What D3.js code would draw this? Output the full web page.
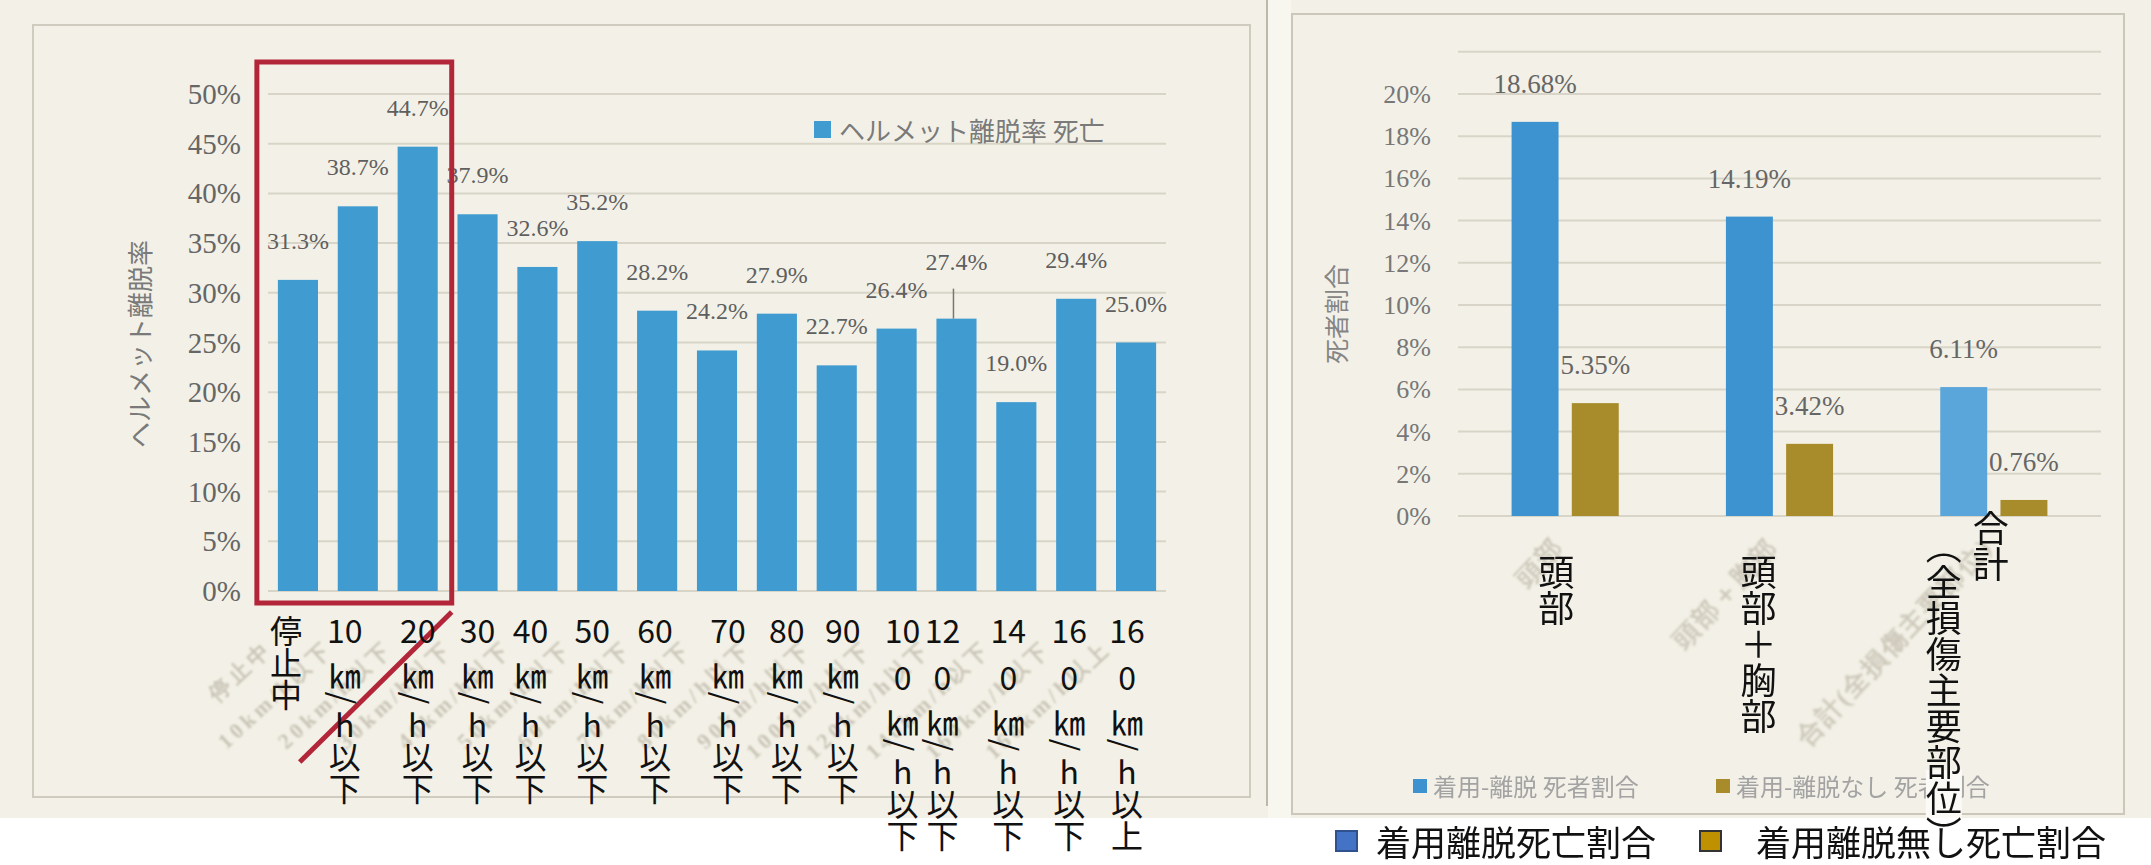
<!DOCTYPE html>
<html>
<head>
<meta charset="utf-8">
<script src="https://cdn.jsdelivr.net/npm/d3@7"></script>
<style>
  body { margin: 0; background: #fff; }
  svg { display: block; }
</style>
</head>
<body>
<script>
const width = 2151;
const height = 865;

// left chart: helmet removal rate (deaths) by speed band
const speedCats = ['停止中', '10㎞/h以下', '20㎞/h以下', '30㎞/h以下', '40㎞/h以下', '50㎞/h以下',
  '60㎞/h以下', '70㎞/h以下', '80㎞/h以下', '90㎞/h以下', '100㎞/h以下', '120㎞/h以下',
  '140㎞/h以下', '160㎞/h以下', '160㎞/h以上'];
const removalRate = [31.3, 38.7, 44.7, 37.9, 32.6, 35.2, 28.2, 24.2, 27.9, 22.7, 26.4, 27.4, 19.0, 29.4, 25.0];
const leftTicks = [0, 5, 10, 15, 20, 25, 30, 35, 40, 45, 50];

// right chart: death ratio by injured body part
const bodyParts = ['頭部', '頭部＋胸部', '合計（全損傷主要部位）'];
const scanParts = ['頭部', '頭部＋胸部', '合計(全損傷主要部位)'];
const deathRemoved = [18.68, 14.19, 6.11];
const deathNotRemoved = [5.35, 3.42, 0.76];
const rightTicks = [0, 2, 4, 6, 8, 10, 12, 14, 16, 18, 20];
const seriesNames = ['着用離脱死亡割合', '着用離脱無し死亡割合'];
const scanSeriesNames = ['着用-離脱 死者割合', '着用-離脱なし 死者割合'];

// hand placed overlay labels sit a bit off the bar centres
const overlayShift = [-12, -13, 0, 0, -7, -5, -2, 11, 10, 6, 6, -14, -8, -7, -9];

const svg = d3.select('body').append('svg')
  .attr('width', width)
  .attr('height', height);

const jp = '"Noto Sans CJK JP", "Noto Sans", sans-serif';
const serif = '"Liberation Serif", "DejaVu Serif", serif';
const grey = '#666';

// soft blur for the faint print-through text of the scan
svg.append('defs').append('filter').attr('id', 'soft')
  .append('feGaussianBlur').attr('stdDeviation', 1.1);

// paper background
svg.append('rect').attr('width', width).attr('height', height).attr('fill', '#fff');
svg.append('rect').attr('x', 0).attr('y', 0).attr('width', 1268).attr('height', 818).attr('fill', '#f3f1e7');
svg.append('rect').attr('x', 1268).attr('y', 0).attr('width', 23).attr('height', 818).attr('fill', '#f7f6ef');
svg.append('rect').attr('x', 1291).attr('y', 0).attr('width', 860).attr('height', 818).attr('fill', '#f3f1e7');

svg.append('rect').attr('x', 33).attr('y', 25).attr('width', 1217).attr('height', 772)
  .attr('fill', 'none').attr('stroke', '#cfcbbe').attr('stroke-width', 2);
svg.append('line').attr('x1', 1267).attr('x2', 1267).attr('y1', 0).attr('y2', 806)
  .attr('stroke', '#bcb8aa').attr('stroke-width', 2);
svg.append('rect').attr('x', 1292).attr('y', 14).attr('width', 832).attr('height', 800)
  .attr('fill', 'none').attr('stroke', '#cbc7ba').attr('stroke-width', 2);

// ---------- left chart ----------
const xL = d3.scaleBand().domain(speedCats).range([268, 1166]).paddingInner(0.33).paddingOuter(0.165);
const yL = d3.scaleLinear().domain([0, 50]).range([591, 94]);
const left = svg.append('g');

left.append('g').selectAll('line').data(leftTicks).enter().append('line')
  .attr('x1', 268).attr('x2', 1166)
  .attr('y1', d => yL(d)).attr('y2', d => yL(d))
  .attr('stroke', '#d8d5c8').attr('stroke-width', 2);

left.append('g').selectAll('text').data(leftTicks).enter().append('text')
  .attr('x', 241).attr('y', d => yL(d) + 10)
  .attr('text-anchor', 'end')
  .attr('font-family', serif).attr('font-size', 29).attr('fill', grey)
  .text(d => d + '%');

left.append('text')
  .attr('transform', 'translate(150,344) rotate(-90)')
  .attr('text-anchor', 'middle')
  .attr('font-family', jp).attr('font-size', 26).attr('fill', '#7a7a7a')
  .text('ヘルメット離脱率');

const leftData = speedCats.map((c, i) => ({cat: c, v: removalRate[i], i}));

left.append('g').selectAll('rect').data(leftData).enter().append('rect')
  .attr('x', d => xL(d.cat)).attr('width', xL.bandwidth())
  .attr('y', d => yL(d.v)).attr('height', d => yL(0) - yL(d.v))
  .attr('fill', '#3f9bd0');

const lift = d => d.cat === '120㎞/h以下' ? 57 : 39;
left.append('g').selectAll('text').data(leftData).enter().append('text')
  .attr('x', d => xL(d.cat) + xL.bandwidth() / 2)
  .attr('y', d => yL(d.v) - lift(d) + 8)
  .attr('text-anchor', 'middle')
  .attr('font-family', serif).attr('font-size', 24).attr('fill', '#5f5f5f')
  .text(d => d.v.toFixed(1) + '%');

// leader line for the raised label
left.append('g').selectAll('line').data(leftData.filter(d => lift(d) > 39)).enter().append('line')
  .attr('x1', d => xL(d.cat) + xL.bandwidth() / 2 - 3).attr('x2', d => xL(d.cat) + xL.bandwidth() / 2 - 3)
  .attr('y1', d => yL(d.v) - 30).attr('y2', d => yL(d.v))
  .attr('stroke', '#777').attr('stroke-width', 1.5);

// faded scanned axis labels
left.append('g').attr('filter', 'url(#soft)').selectAll('text').data(leftData).enter().append('text')
  .attr('transform', d => `translate(${xL(d.cat) + xL.bandwidth() / 2 - 24},650) rotate(-43)`)
  .attr('text-anchor', 'end')
  .attr('font-family', serif).attr('font-size', 22).attr('font-weight', 'bold').attr('letter-spacing', 4)
  .attr('fill', '#c9c4b6')
  .text(d => d.cat.replace('㎞', 'km'));

// legend
left.append('rect').attr('x', 814).attr('y', 121).attr('width', 17).attr('height', 17).attr('fill', '#3f9bd0');
left.append('text').attr('x', 839).attr('y', 141)
  .attr('font-family', jp).attr('font-size', 26).attr('fill', '#7a7a7a')
  .text('ヘルメット離脱率 死亡');

// red annotation
const boxL = xL(speedCats[0]) - 21;
const boxR = xL(speedCats[2]) + xL.bandwidth() + 14;
const boxT = yL(50) - 32;
const boxB = yL(0) + 12;
left.append('rect')
  .attr('x', boxL).attr('y', boxT).attr('width', boxR - boxL).attr('height', boxB - boxT)
  .attr('fill', 'none').attr('stroke', '#b3263a').attr('stroke-width', 5);
left.append('line')
  .attr('x1', boxR).attr('y1', boxB + 9).attr('x2', boxR - 152).attr('y2', boxB + 159)
  .attr('stroke', '#b3263a').attr('stroke-width', 5);

// overlay speed labels, stacked narrow
function tokenize(s) {
  const out = [];
  const re = /(\d+)|(.)/gu;
  let m;
  while ((m = re.exec(s))) {
    if (m[1]) { for (let k = 0; k < m[1].length; k += 2) out.push(m[1].slice(k, k + 2)); }
    else out.push(m[2]);
  }
  return out;
}
const kindOf = t => /\d/.test(t) ? 'num' : t === '㎞' ? 'km' : t === '/' ? 'slash' : t === 'h' ? 'h' : 'cjk';
const stepTo = {num: 47, km: 45, slash: 10, h: 39, cjk: 32};
function placeTokens(s) {
  let y = 643;
  const toks = tokenize(s);
  return toks.map((t, k) => {
    const kind = kindOf(t);
    if (k > 0) y += stepTo[kind];
    return {t, kind, y};
  });
}

const over = svg.append('g').attr('font-family', jp).attr('fill', '#111');
leftData.forEach(d => {
  const cx = xL(d.cat) + xL.bandwidth() / 2 + overlayShift[d.i];
  placeTokens(d.cat).forEach(tok => {
    const t = over.append('text')
      .attr('x', cx).attr('y', tok.y)
      .attr('text-anchor', 'middle')
      .attr('font-size', 32)
      .text(tok.t);
    if (tok.kind === 'slash') {
      t.attr('dominant-baseline', 'central').attr('transform', `rotate(90,${cx},${tok.y})`);
    }
  });
});

// ---------- right chart ----------
const x0 = d3.scaleBand().domain(bodyParts).range([1458, 2101]).paddingInner(0.5).paddingOuter(0.25);
const x1 = d3.scaleBand().domain([0, 1]).range([0, x0.bandwidth()]).paddingInner(0.22);
const yR = d3.scaleLinear().domain([0, 20]).range([516, 94]);
const right = svg.append('g');

right.append('g').selectAll('line').data(rightTicks.concat([22])).enter().append('line')
  .attr('x1', 1458).attr('x2', 2101)
  .attr('y1', d => yR(d)).attr('y2', d => yR(d))
  .attr('stroke', '#d8d5c8').attr('stroke-width', 2);

right.append('g').selectAll('text').data(rightTicks).enter().append('text')
  .attr('x', 1431).attr('y', d => yR(d) + 9)
  .attr('text-anchor', 'end')
  .attr('font-family', serif).attr('font-size', 26).attr('fill', '#777')
  .text(d => d + '%');

right.append('text')
  .attr('transform', 'translate(1346,314) rotate(-90)')
  .attr('text-anchor', 'middle')
  .attr('font-family', jp).attr('font-size', 25).attr('fill', '#858585')
  .text('死者割合');

const rightData = [];
bodyParts.forEach((p, i) => {
  rightData.push({part: p, s: 0, v: deathRemoved[i]});
  rightData.push({part: p, s: 1, v: deathNotRemoved[i]});
});
const barColor = ['#3d93cf', '#a88c2c'];

right.append('g').selectAll('rect').data(rightData).enter().append('rect')
  .attr('x', d => x0(d.part) + x1(d.s)).attr('width', x1.bandwidth())
  .attr('y', d => yR(d.v)).attr('height', d => yR(0) - yR(d.v))
  .attr('fill', d => d.s === 0 && d.part === bodyParts[2] ? '#5aa5d9' : barColor[d.s]);

right.append('g').selectAll('text').data(rightData).enter().append('text')
  .attr('x', d => x0(d.part) + x1(d.s) + x1.bandwidth() / 2)
  .attr('y', d => yR(d.v) - 29)
  .attr('text-anchor', 'middle')
  .attr('font-family', serif).attr('font-size', 27).attr('fill', '#666')
  .text(d => d.v.toFixed(2) + '%');

// faded scanned category labels
right.append('g').attr('filter', 'url(#soft)').selectAll('text').data(scanParts).enter().append('text')
  .attr('transform', (d, i) => `translate(${x0(bodyParts[i]) + x0.bandwidth() / 2},548) rotate(-47)`)
  .attr('text-anchor', 'end')
  .attr('font-family', serif).attr('font-size', 26).attr('font-weight', 'bold').attr('letter-spacing', 2)
  .attr('fill', '#cdc8ba')
  .text(d => d);

// scanned legend
const scanLegX = [1413, 1716];
const scanLeg = right.append('g').selectAll('g').data(scanSeriesNames).enter().append('g');
scanLeg.append('rect').attr('x', (d, i) => scanLegX[i]).attr('y', 779).attr('width', 14).attr('height', 14)
  .attr('fill', (d, i) => barColor[i]);
scanLeg.append('text').attr('x', (d, i) => scanLegX[i] + 20).attr('y', 796)
  .attr('font-family', jp).attr('font-size', 24).attr('fill', '#a3a3a3')
  .text(d => d);

// overlay category labels, vertical
const colShift = [-9, -21, -3];
const vert = svg.append('g').attr('font-family', jp).attr('font-size', 36).attr('fill', '#111');
bodyParts.forEach((p, i) => {
  const cx = x0(p) + x0.bandwidth() / 2 + colShift[i];
  const cut = p.indexOf('（');
  const cols = cut > 0 ? [p.slice(0, cut), p.slice(cut)] : [p];
  cols.forEach((c, k) => {
    if (k > 0) {
      // the pasted text box hides the legend behind it
      vert.append('rect').attr('x', cx - 47 * k - 18).attr('y', 770).attr('width', 36).attr('height', 48)
        .attr('fill', '#fbfaf6');
    }
    vert.append('text')
      .attr('x', cx - 47 * k)
      .attr('y', cut > 0 ? 510 + 18 * k : 554)
      .style('writing-mode', 'vertical-rl')
      .text(c);
  });
});

// overlay legend
const legX = [1336, 1700];
const leg = svg.append('g').selectAll('g').data(seriesNames).enter().append('g');
leg.append('rect').attr('x', (d, i) => legX[i]).attr('y', 831).attr('width', 21).attr('height', 20)
  .attr('fill', (d, i) => ['#4472c4', '#bf9000'][i])
  .attr('stroke', (d, i) => ['#2f528f', '#333'][i]).attr('stroke-width', 2);
leg.append('text').attr('x', (d, i) => legX[i] + [40, 56][i]).attr('y', 856)
  .attr('font-family', jp).attr('font-size', 35).attr('fill', '#111')
  .text(d => d);
</script>
</body>
</html>
